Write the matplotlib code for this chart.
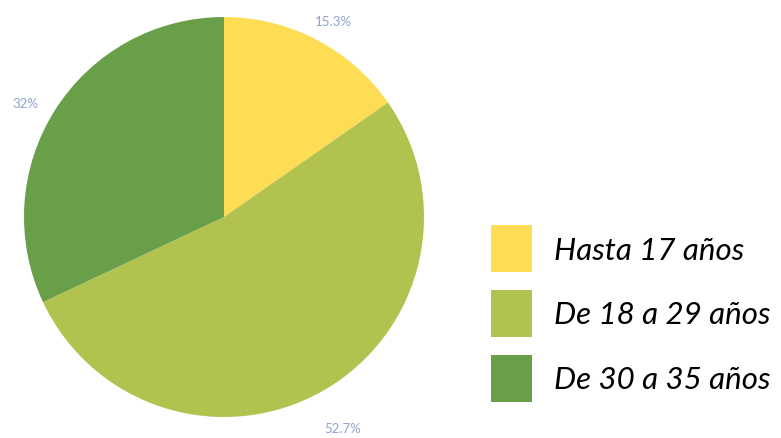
import matplotlib.pyplot as plt
from matplotlib.patches import Patch

categories = ['Hasta 17 años', 'De 18 a 29 años', 'De 30 a 35 años']
values = [15.3, 52.7, 32.0]
colors = ['#FEDD55', '#B2C24F', '#6A9F4A']
label_color = '#8FA3CF'


def fmt(p):
    s = f'{p:.1f}'.rstrip('0').rstrip('.')
    return s + '%'


def main():
    fig = plt.figure(figsize=(7.81, 4.39), dpi=100)
    fig.patch.set_facecolor('white')
    ax = fig.add_axes([24 / 781, 21 / 439, 400 / 781, 400 / 439])
    wedges, texts, autotexts = ax.pie(
        values, colors=colors, startangle=90, counterclock=False,
        autopct=fmt, pctdistance=1.13, radius=1,
        wedgeprops=dict(linewidth=0),
        textprops=dict(color=label_color, fontsize=9.5, family='Lato'))
    # nudge the percentage labels to where the original puts them
    nudges = [(1.045, 0.98), (1.05, 1.08), (1.04, 0.94)]
    for t, (fx, fy) in zip(autotexts, nudges):
        x, y = t.get_position()
        t.set_position((x * fx, y * fy))
    ax.set_xlim(-1, 1)
    ax.set_ylim(-1, 1)
    ax.set_aspect('equal')
    ax.axis('off')

    handles = [Patch(facecolor=c, edgecolor='none') for c in colors]
    fig.legend(handles, categories, loc='center left',
               bbox_to_anchor=(491 / 781, 1 - 314.5 / 439),
               frameon=False, borderpad=0, borderaxespad=0,
               handlelength=1.3, handleheight=1.97, handletextpad=0.7,
               labelspacing=0.55,
               prop=dict(family='Lato', style='italic', size=22.5))
    fig.savefig('out.png', dpi=100)


if __name__ == '__main__':
    main()
